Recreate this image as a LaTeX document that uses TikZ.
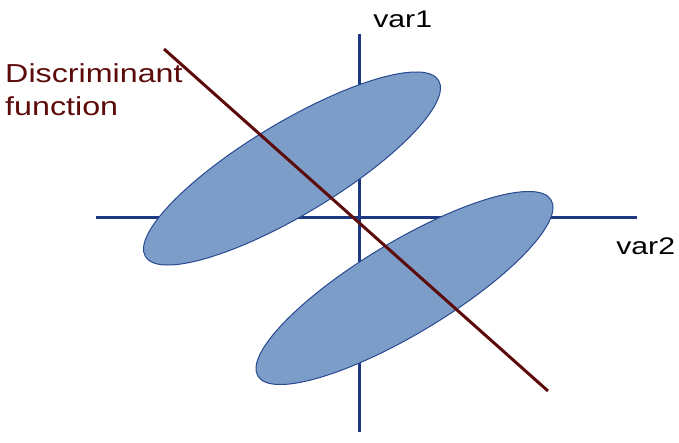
\documentclass[tikz,border=0pt]{standalone}
\usepackage{fontspec}
\setmainfont{Liberation Sans}
\definecolor{axisblue}{RGB}{31,56,132}
\definecolor{ellfill}{RGB}{124,157,200}
\definecolor{elldraw}{RGB}{40,72,145}
\definecolor{discred}{RGB}{92,10,10}
\tikzset{
  axis/.style={draw=axisblue, line width=3pt},
  blob/.style={fill=ellfill, draw=elldraw, line width=1pt},
  discline/.style={draw=discred, line width=3pt},
  lbl/.style={inner sep=0pt, anchor=base west, xscale=1.26, font=\fontsize{24}{28}\selectfont},
  dlbl/.style={inner sep=0pt, anchor=base west, xscale=1.24, text=discred, font=\fontsize{26}{30}\selectfont}
}
\begin{document}
\begin{tikzpicture}[x=1pt,y=1pt]
\useasboundingbox (0,0) rectangle (679,442);
% axes
\coordinate (vtop) at (359,408);
\coordinate (vbot) at (359,10);
\coordinate (hl) at (96,224);
\coordinate (hr) at (637,224);
\draw[axis] (vtop) -- (vbot);
\draw[axis] (hl) -- (hr);
% ellipses
\coordinate (c1) at (292,273.5);
\coordinate (c2) at (404.5,154);
\draw[blob, rotate around={31:(c1)}] (c1) ellipse [x radius=171, y radius=46];
\draw[blob, rotate around={31:(c2)}] (c2) ellipse [x radius=171, y radius=46];
% discriminant
\coordinate (d1) at (164,393);
\coordinate (d2) at (548,51);
\draw[discline] (d1) -- (d2);
% labels
\node[lbl] (v1) at (373,414.3) {var1};
\node[lbl] (v2) at (616,187) {var2};
\node[dlbl] (disc) at (5,359.7) {Discriminant};
\node[dlbl] (func) at (5,326) {function};
\end{tikzpicture}
\end{document}
